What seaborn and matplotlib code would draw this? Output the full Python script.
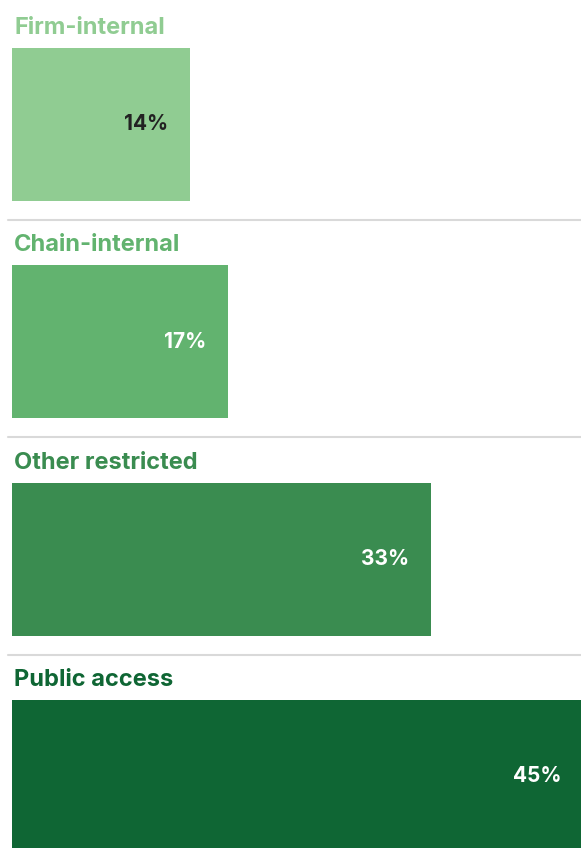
import pandas as pd
import matplotlib.pyplot as plt
import seaborn as sns

categories = ['Firm-internal', 'Chain-internal', 'Other restricted', 'Public access']
shares = [14, 17, 33, 45]
colors = ['#90CC92', '#62B36F', '#3A8C50', '#0F6634']
label_colors = ['#222222', '#FFFFFF', '#FFFFFF', '#FFFFFF']

data = pd.DataFrame({'access': categories, 'share': shares})

sns.set_style('white')
plt.rcParams['font.family'] = ['Inter', 'DejaVu Sans']

fig = plt.figure(figsize=(5.81, 8.48), dpi=100)
ax = fig.add_axes([0, 0, 1, 1])

sns.barplot(data=data, x='share', y='access', hue='access', palette=colors,
            orient='h', width=0.704, legend=False, saturation=1, linewidth=0, ax=ax)

ax.set_xlim(-12 / 12.71, (581 - 12) / 12.71)
ax.set_ylim(3.33, -0.573)
ax.axis('off')

for i, (name, v) in enumerate(zip(categories, shares)):
    # title above each bar
    ax.annotate(name, xy=(0, i - 0.352), xytext=(2, 14), textcoords='offset pixels',
                ha='left', va='baseline', fontsize=17, fontweight='bold', color=colors[i])
    ax.annotate(f'{v}%', xy=(v, i), xytext=(-22, 0), textcoords='offset pixels',
                ha='right', va='center', fontsize=15, fontweight='bold',
                color=label_colors[i], annotation_clip=False)
    if i < len(categories) - 1:
        ax.axhline(i + 0.44, xmin=8 / 581, xmax=1, color='#D9D9D9', lw=1.5)

fig.savefig('out.png', dpi=100)
